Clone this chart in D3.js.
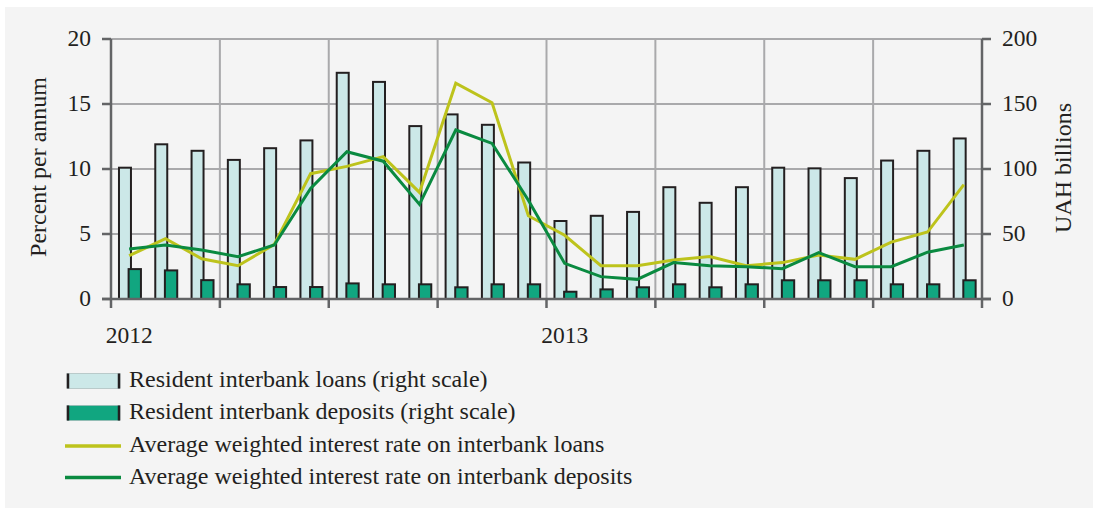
<!DOCTYPE html>
<html>
<head>
<meta charset="utf-8">
<script src="https://cdn.jsdelivr.net/npm/d3@7"></script>
<style>
  html, body { margin: 0; padding: 0; background: #ffffff; }
  svg { display: block; }
  text { font-family: "Liberation Serif", "Times New Roman", serif; fill: #231f20; }
</style>
</head>
<body>
<svg id="chart" width="1093" height="508"></svg>
<script>
// ---- data ----
const months = ["2012-01","2012-02","2012-03","2012-04","2012-05","2012-06","2012-07","2012-08","2012-09","2012-10","2012-11","2012-12",
                "2013-01","2013-02","2013-03","2013-04","2013-05","2013-06","2013-07","2013-08","2013-09","2013-10","2013-11","2013-12"];
const loansVolume    = [101, 119, 114, 107, 116, 122, 174, 167, 133, 142, 134, 105, 60, 64, 67, 86, 74, 86, 101, 100.5, 93, 106.5, 114, 123.5];
const depositsVolume = [23, 22, 14.5, 11.3, 9.2, 9.2, 12, 11.3, 11.3, 9, 11.3, 11.3, 5.6, 7.4, 9, 11.3, 9, 11.3, 14.4, 14.4, 14.4, 11.3, 11.3, 14.4];
const loansRate      = [3.33, 4.64, 3.1, 2.56, 4.2, 9.64, 10.2, 10.95, 8.2, 16.6, 15.1, 6.4, 4.9, 2.56, 2.56, 3.0, 3.26, 2.56, 2.8, 3.38, 3.05, 4.38, 5.15, 8.8];
const depositsRate   = [3.85, 4.15, 3.77, 3.26, 4.15, 8.5, 11.33, 10.6, 7.28, 13.0, 11.97, 7.6, 2.74, 1.72, 1.51, 2.8, 2.56, 2.49, 2.33, 3.56, 2.49, 2.49, 3.6, 4.15];
const leftTicks  = [0, 5, 10, 15, 20];
const rightTicks = [0, 50, 100, 150, 200];
const yearLabels = [{month: "2012-01", label: "2012"}, {month: "2013-01", label: "2013"}];
const legendItems = [
  {label: "Resident interbank loans (right scale)", type: "bar", key: "loansBar"},
  {label: "Resident interbank deposits (right scale)", type: "bar", key: "depBar"},
  {label: "Average weighted interest rate on interbank loans", type: "line", key: "loansLine"},
  {label: "Average weighted interest rate on interbank deposits", type: "line", key: "depLine"}
];

// ---- styles ----
const colors = {
  loansBar: "#cce8e8",
  depBar: "#11a680",
  loansLine: "#bdc31c",
  depLine: "#0a8a40",
  grid: "#a9a9ab",
  axis: "#636466",
  border: "#231f20"
};

const svg = d3.select("#chart");
svg.append("rect").attr("x", 5).attr("y", 7).attr("width", 1088).attr("height", 501).attr("fill", "#f4f4f4");

const plot = {left: 111, right: 982, top: 39, bottom: 299};

const x = d3.scaleBand().domain(months).range([plot.left, plot.right]).padding(0);
const yL = d3.scaleLinear().domain([0, 20]).range([plot.bottom, plot.top]);
const yR = d3.scaleLinear().domain([0, 200]).range([plot.bottom, plot.top]);
const bw = x.bandwidth();

// gridlines
const g = svg.append("g");
leftTicks.filter(d => d > 0).forEach(t => {
  g.append("line").attr("x1", plot.left).attr("x2", plot.right)
    .attr("y1", yL(t)).attr("y2", yL(t))
    .attr("stroke", colors.grid).attr("stroke-width", 2);
});
const vIdx = d3.range(3, 24, 3);
vIdx.forEach(i => {
  const xx = x(months[i]);
  g.append("line").attr("x1", xx).attr("x2", xx)
    .attr("y1", plot.top).attr("y2", plot.bottom)
    .attr("stroke", colors.grid).attr("stroke-width", 2);
});

// bars
const bars = svg.append("g");
months.forEach((m, i) => {
  const x0 = x(m) + bw * 0.22;
  const w = bw * 0.33;
  const yTop = yR(loansVolume[i]);
  bars.append("rect").attr("x", x0).attr("y", yTop).attr("width", w).attr("height", plot.bottom - yTop)
    .attr("fill", colors.loansBar).attr("stroke", colors.border).attr("stroke-width", 2);
});
months.forEach((m, i) => {
  const x0 = x(m) + bw * 0.485;
  const w = bw * 0.34;
  const yTop = yR(depositsVolume[i]);
  bars.append("rect").attr("x", x0).attr("y", yTop).attr("width", w).attr("height", plot.bottom - yTop)
    .attr("fill", colors.depBar).attr("stroke", colors.border).attr("stroke-width", 2);
});

// lines
const line = d3.line().x((d, i) => x(months[i]) + bw / 2).y(d => yL(d));
svg.append("path").datum(loansRate).attr("d", line).attr("fill", "none")
  .attr("stroke", colors.loansLine).attr("stroke-width", 3).attr("stroke-linejoin", "miter");
svg.append("path").datum(depositsRate).attr("d", line).attr("fill", "none")
  .attr("stroke", colors.depLine).attr("stroke-width", 3).attr("stroke-linejoin", "miter");

// axes
const ax = svg.append("g");
ax.append("line").attr("x1", plot.left).attr("x2", plot.left).attr("y1", plot.top).attr("y2", plot.bottom + 9)
  .attr("stroke", colors.axis).attr("stroke-width", 2.5);
ax.append("line").attr("x1", plot.right).attr("x2", plot.right).attr("y1", plot.top).attr("y2", plot.bottom + 9)
  .attr("stroke", colors.axis).attr("stroke-width", 2.5);
ax.append("line").attr("x1", plot.left - 9).attr("x2", plot.right + 9).attr("y1", plot.bottom).attr("y2", plot.bottom)
  .attr("stroke", colors.axis).attr("stroke-width", 2.5);
leftTicks.forEach(t => {
  ax.append("line").attr("x1", plot.left - 9).attr("x2", plot.left).attr("y1", yL(t)).attr("y2", yL(t))
    .attr("stroke", colors.axis).attr("stroke-width", 2.5);
  ax.append("text").attr("x", 91).attr("y", yL(t) + 7).attr("text-anchor", "end")
    .attr("font-size", 23.5).text(t);
});
rightTicks.forEach(t => {
  ax.append("line").attr("x1", plot.right).attr("x2", plot.right + 9).attr("y1", yR(t)).attr("y2", yR(t))
    .attr("stroke", colors.axis).attr("stroke-width", 2.5);
  ax.append("text").attr("x", 1002).attr("y", yR(t) + 7).attr("text-anchor", "start")
    .attr("font-size", 23.5).text(t);
});
vIdx.forEach(i => {
  const xx = x(months[i]);
  ax.append("line").attr("x1", xx).attr("x2", xx).attr("y1", plot.bottom).attr("y2", plot.bottom + 9)
    .attr("stroke", colors.axis).attr("stroke-width", 2.5);
});
yearLabels.forEach(d => {
  ax.append("text").attr("x", x(d.month) + bw / 2).attr("y", 343).attr("text-anchor", "middle")
    .attr("font-size", 23.5).text(d.label);
});

// axis titles
svg.append("text").attr("transform", "translate(46,167) rotate(-90)").attr("text-anchor", "middle")
  .attr("font-size", 24).text("Percent per annum");
svg.append("text").attr("transform", "translate(1071,168) rotate(-90)").attr("text-anchor", "middle")
  .attr("font-size", 24).text("UAH billions");

// legend
const lg = svg.append("g");
const rowsY = [381, 413, 446, 477.5];
legendItems.forEach((it, i) => {
  const cy = rowsY[i];
  if (it.type === "bar") {
    lg.append("rect").attr("x", 67).attr("y", cy - 7.5).attr("width", 53).attr("height", 15)
      .attr("fill", colors[it.key]).attr("stroke", "#9fb3b3").attr("stroke-width", 0.6);
    lg.append("line").attr("x1", 68).attr("x2", 68).attr("y1", cy - 7.5).attr("y2", cy + 7.5)
      .attr("stroke", colors.border).attr("stroke-width", 2.5);
    lg.append("line").attr("x1", 119).attr("x2", 119).attr("y1", cy - 7.5).attr("y2", cy + 7.5)
      .attr("stroke", colors.border).attr("stroke-width", 2.5);
  } else {
    lg.append("line").attr("x1", 65).attr("x2", 121).attr("y1", cy).attr("y2", cy)
      .attr("stroke", colors[it.key]).attr("stroke-width", 3.5);
  }
  lg.append("text").attr("x", 129).attr("y", cy + 6).attr("font-size", 24).text(it.label);
});
</script>
</body>
</html>
